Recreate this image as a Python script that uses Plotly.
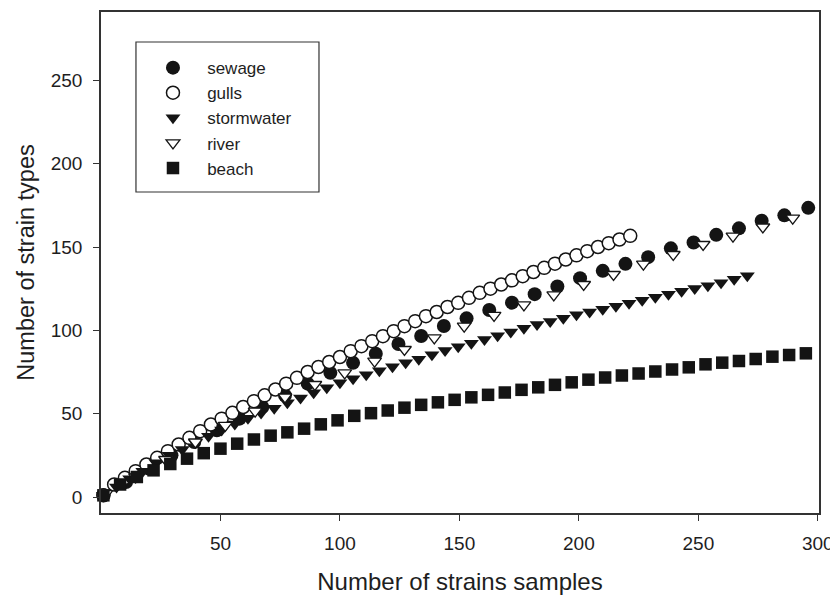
import plotly.graph_objects as go

# ---- data ----
sewage_x = [1, 10.5, 20, 29.5, 39, 48.5, 58, 67.5, 77, 86.5, 96, 105.5, 115, 124.5, 134, 143.5,
            153, 162.5, 172, 181.5, 191, 200.5, 210, 219.5, 229, 238.5, 248, 257.5, 267, 276.5, 286, 296]
sewage_y = [1, 9, 17, 25, 33, 40, 47, 54, 61, 68, 74.5, 80.5, 86, 91.8, 96.6, 102.6,
            107.2, 112.2, 116.6, 121.7, 126.3, 131.3, 135.7, 139.9, 143.9, 149.2, 152.7, 157.3, 161.2, 165.8, 169, 173.5]

gulls_x = [1, 5.5, 10, 14.5, 19, 23.5, 28, 32.5, 37, 41.5, 46, 50.5, 55, 59.5, 64, 68.5, 73, 77.5, 82, 86.5,
           91, 95.5, 100, 104.5, 109, 113.5, 118, 122.5, 127, 131.5, 136, 140.5, 145, 149.5, 154, 158.5,
           163, 167.5, 172, 176.5, 181, 185.5, 190, 194.5, 199, 203.5, 208, 212.5, 217, 221.5]
gulls_y = [1, 7.5, 11.5, 15.5, 19.5, 23.5, 27.5, 31.5, 35.5, 39.5, 43.5, 47, 50.5, 54, 57.5, 61, 64.5, 68, 71.5, 75,
           78, 81, 84, 87.5, 90.5, 93.5, 96.5, 99.5, 102.5, 105.5, 108.5, 111, 114, 116.5, 119.5, 122.5,
           125, 127.5, 130, 132.5, 135, 137.5, 140, 142.5, 145, 147.5, 150, 152.3, 154.5, 156.7]

storm_x = [1, 6.5, 12, 17.5, 23, 28.5, 34, 39.5, 45, 50.5, 56, 61.5, 67, 72.5, 78, 83.5, 89, 94.5, 100, 105.5,
           111, 116.5, 122, 127.5, 133, 138.5, 144, 149.5, 155, 160.5, 166, 171.5, 177, 182.5, 188, 193.5,
           199, 204.5, 210, 215.5, 221, 226.5, 232, 237.5, 243, 248.5, 254, 259.5, 265, 270.5]
storm_y = [1, 6, 11, 15.5, 20.5, 25, 28.5, 32.5, 36.5, 40.2, 43.8, 47.2, 50.4, 53.3, 56.5, 59.4, 62.5, 65.5, 68.5, 71,
           73.3, 75.8, 78.2, 80.5, 82.7, 85.3, 87.9, 90.2, 92.3, 94.5, 96.7, 99, 101.3, 103.5, 105.3, 107.3,
           109.3, 111, 112.7, 114.5, 116.3, 118.1, 119.9, 121.7, 123.4, 125.1, 126.8, 128.6, 130.7, 132.7]

river_x = [2, 14.5, 27, 39.5, 52, 64.5, 77, 89.5, 102, 114.5, 127, 139.5, 152, 164.5, 177, 189.5,
           202, 214.5, 227, 239.5, 252, 264.5, 277, 289.5]
river_y = [2, 12, 22.5, 33, 43, 51.5, 60, 67.5, 74.5, 81.5, 88.5, 95.5, 102.5, 109, 115.3, 121.3,
           127.5, 133.5, 139.7, 145.5, 151.5, 156.5, 162, 167.3]

beach_x = [1, 8, 15, 22, 29, 36, 43, 50, 57, 64, 71, 78, 85, 92, 99, 106, 113, 120, 127, 134, 141, 148,
           155, 162, 169, 176, 183, 190, 197, 204, 211, 218, 225, 232, 239, 246, 253, 260, 267, 274, 281, 288, 295]
beach_y = [1, 7.5, 12, 16, 19.8, 23, 26.3, 29, 32, 34.5, 36.8, 38.8, 41, 43.6, 46, 48.7, 50.3, 51.9, 53.6, 55.3,
           56.8, 58.3, 59.8, 61.3, 62.7, 64.3, 65.8, 67.3, 68.8, 70.4, 71.7, 72.9, 74.1, 75.3, 76.5, 77.8,
           79.6, 80.6, 81.6, 82.8, 84.2, 85.2, 86.2]

x_ticks = [50, 100, 150, 200, 250, 300]
y_ticks = [0, 50, 100, 150, 200, 250]

BLACK = "#141414"
AX = "#333333"
TXT = "#1e1e1e"
PAD = "\u00a0\u00a0\u00a0"

fig = go.Figure()
series = [
    ("sewage", sewage_x, sewage_y, dict(symbol="circle", size=14, color=BLACK, line=dict(width=0))),
    ("gulls", gulls_x, gulls_y, dict(symbol="circle", size=13, color="white", line=dict(width=1.5, color=BLACK))),
    ("stormwater", storm_x, storm_y, dict(symbol="triangle-down", size=13, color=BLACK, line=dict(width=0))),
    ("river", river_x, river_y, dict(symbol="triangle-down", size=12, color="white", line=dict(width=1.3, color=BLACK))),
    ("beach", beach_x, beach_y, dict(symbol="square", size=12.5, color=BLACK, line=dict(width=0))),
]
for name, xs, ys, mk in series:
    fig.add_trace(go.Scatter(x=xs, y=ys, mode="markers", name=PAD + name, marker=mk, cliponaxis=False))

font_main = "Liberation Sans, Arial, sans-serif"

# legend frame (layout decoration)
fig.add_shape(type="rect", xref="paper", yref="paper",
              x0=0.0487, x1=0.3036, y0=0.6407, y1=0.9401,
              line=dict(color=AX, width=1.2), fillcolor="white", layer="below")

# page body has an 8px default margin, so the figure is sized to end at the window edge
fig.update_layout(
    width=830, height=587,
    margin=dict(l=93, r=19, t=4, b=82),
    plot_bgcolor="white", paper_bgcolor="white",
    showlegend=True,
    legend=dict(
        x=0.0724, y=0.924, xanchor="left", yanchor="top",
        borderwidth=0, bgcolor="rgba(0,0,0,0)",
        font=dict(family=font_main, size=17, color=TXT),
        itemsizing="trace",
    ),
    xaxis=dict(
        range=[0, 300.5], tickvals=x_ticks, ticktext=[str(v) for v in x_ticks],
        showgrid=False, zeroline=False, showline=True, linecolor=AX, linewidth=1.5, mirror=True,
        ticks="outside", ticklen=6, tickcolor=AX, tickwidth=1.2, ticklabelstandoff=6,
        tickfont=dict(family=font_main, size=19, color=TXT), automargin=False,
        title=dict(text="Number of strains samples", font=dict(family=font_main, size=24, color=TXT), standoff=24),
    ),
    yaxis=dict(
        range=[-9.6, 291], tickvals=y_ticks, ticktext=[str(v) for v in y_ticks],
        showgrid=False, zeroline=False, showline=True, linecolor=AX, linewidth=1.5, mirror=True,
        ticks="outside", ticklen=6, tickcolor=AX, tickwidth=1.2, ticklabelstandoff=7,
        tickfont=dict(family=font_main, size=19, color=TXT), automargin=False,
        title=dict(text="Number of strain types", font=dict(family=font_main, size=23.5, color=TXT), standoff=10),
    ),
)

fig.write_html("out.html")
